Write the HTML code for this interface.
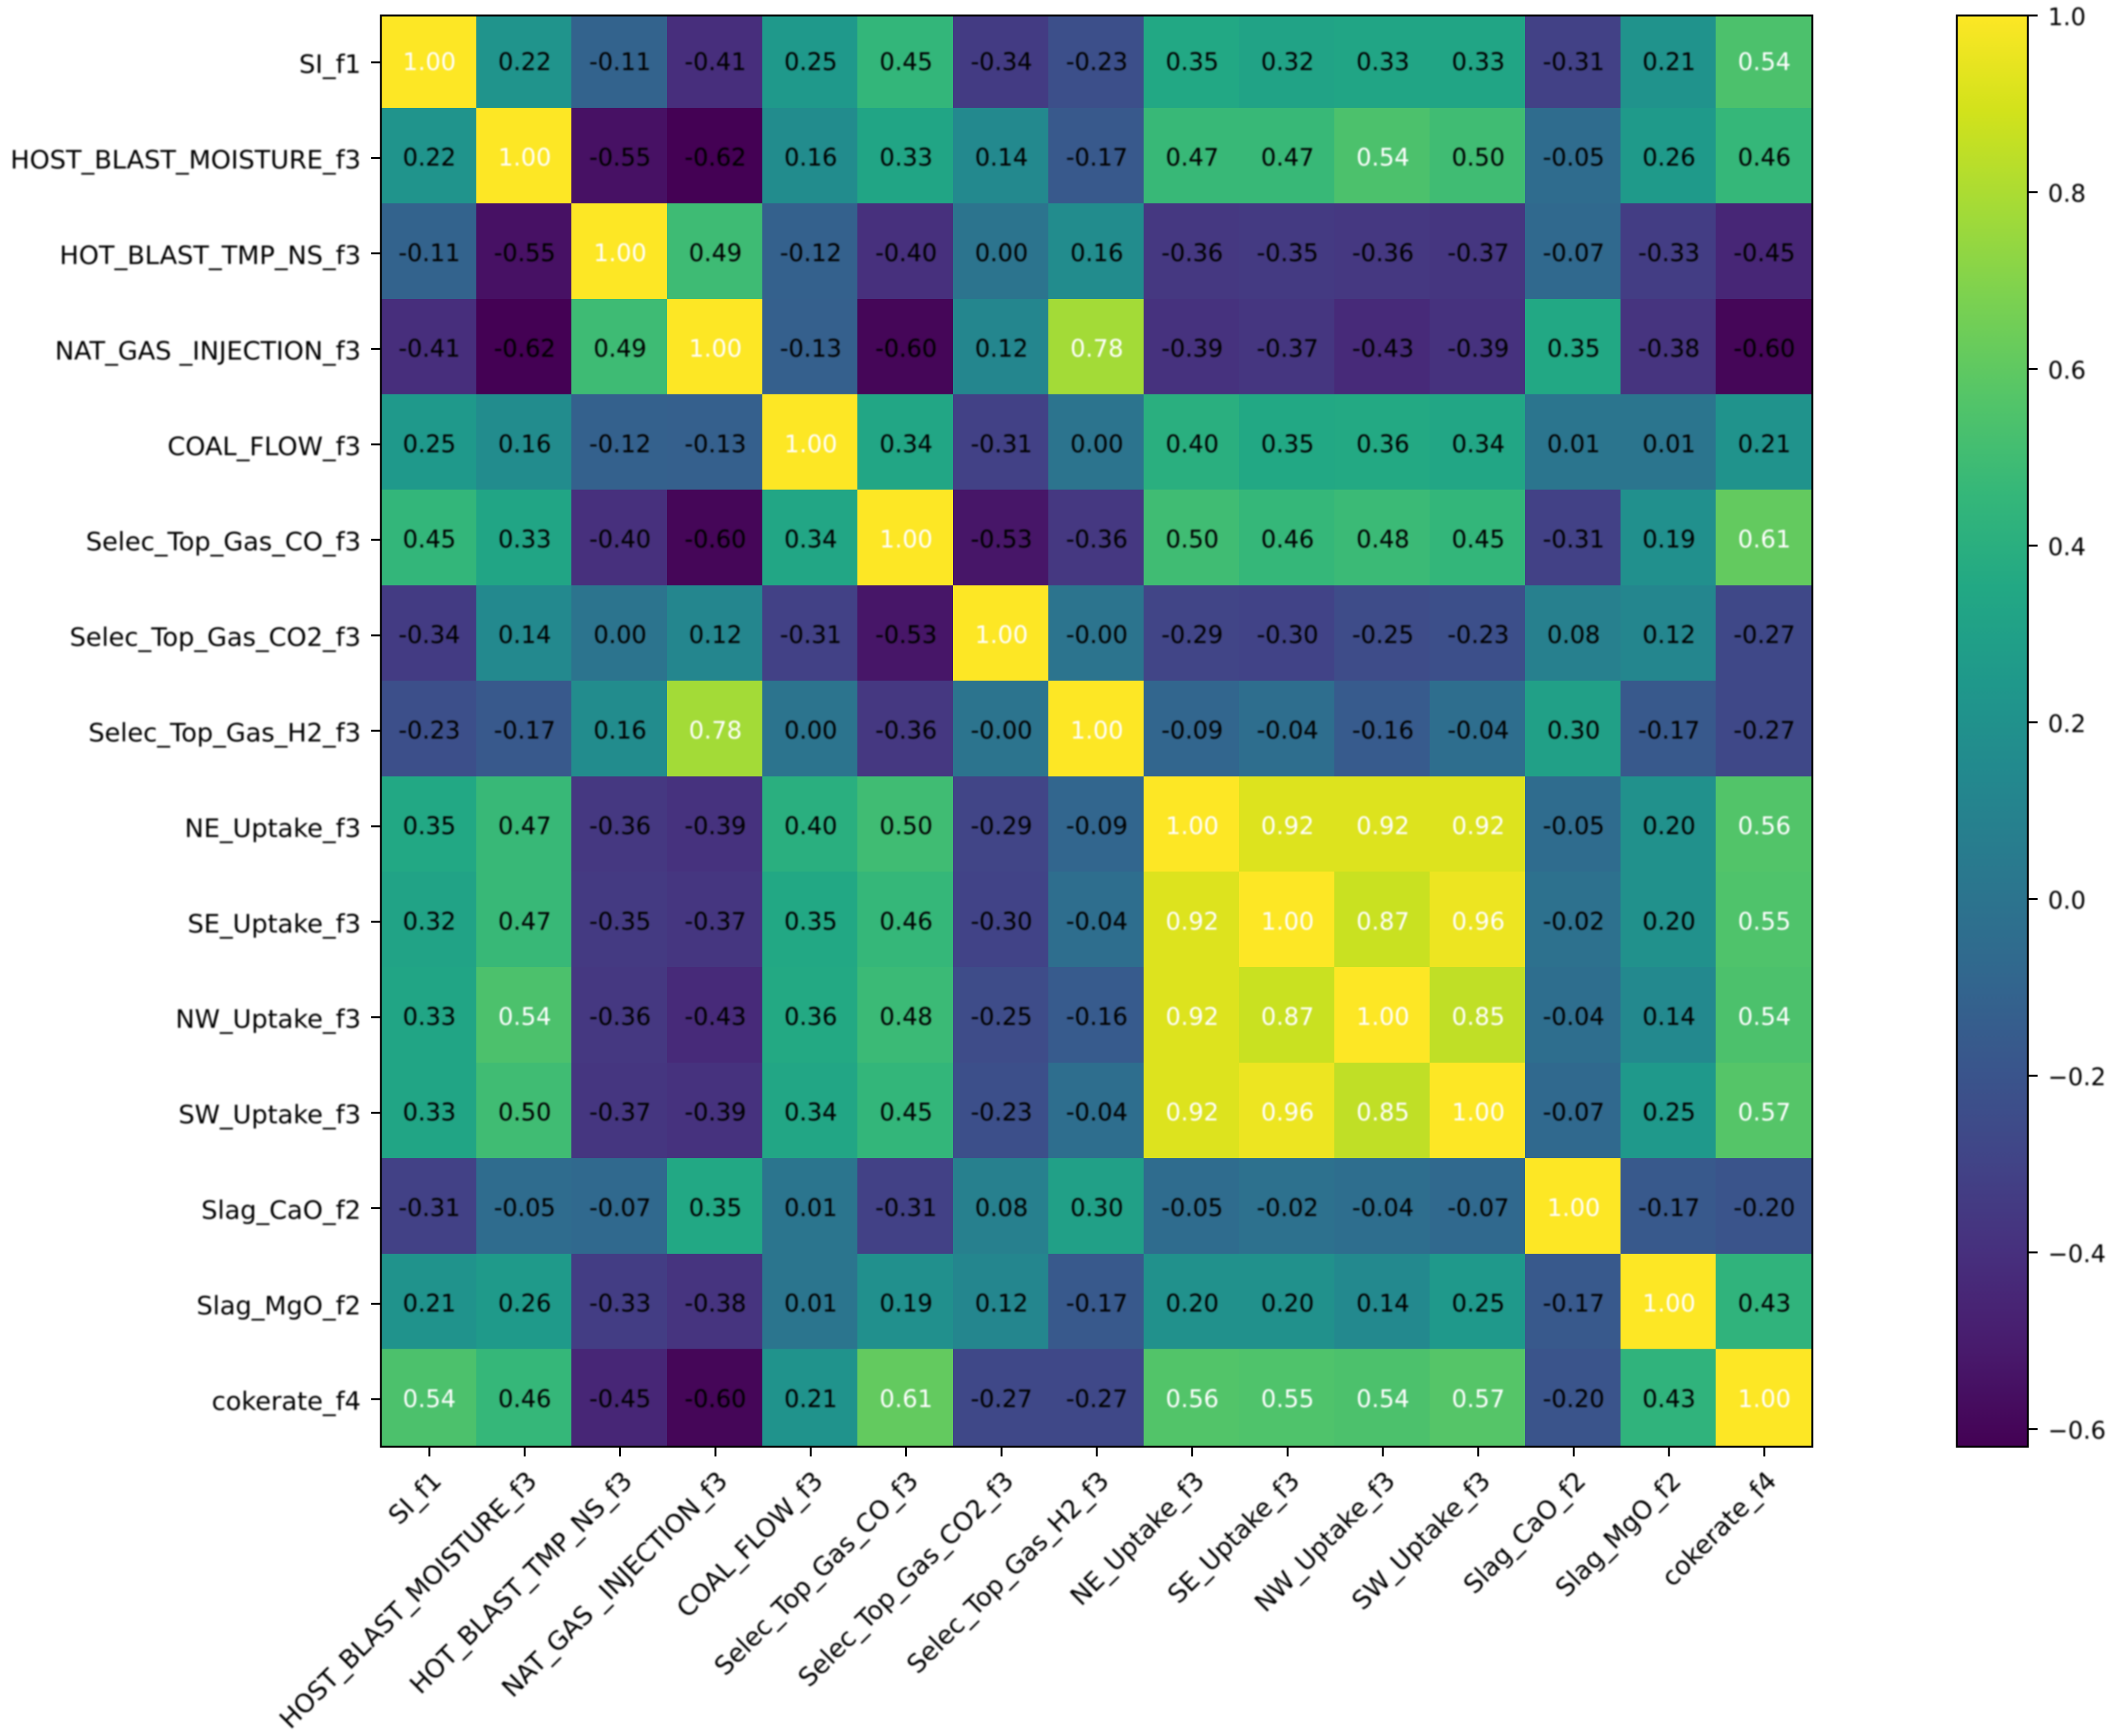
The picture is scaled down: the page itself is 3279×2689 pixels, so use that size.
<!DOCTYPE html>
<html lang="en">
<head>
<meta charset="utf-8">
<title>Feature correlation heatmap</title>
<style>
html,body{margin:0;padding:0;background:#fff;width:3279px;height:2689px;overflow:hidden}
svg{display:block}
text{font-family:"DejaVu Sans","Liberation Sans",sans-serif;font-size:37px}
text.axis-label{font-size:39.6px}
</style>
</head>
<body>
<svg id="chart" xmlns="http://www.w3.org/2000/svg" width="3279" height="2689" viewBox="0 0 3279 2689">
<defs>
<filter id="soft" x="-5%" y="-5%" width="110%" height="110%"><feGaussianBlur stdDeviation="1.2"/></filter>
<linearGradient id="viridis-gradient" x1="0" y1="1" x2="0" y2="0"></linearGradient>
<clipPath id="plot-clip"><rect x="590" y="24" width="2217" height="2217"/></clipPath>
</defs>
</svg>
<script>
const categories = ["SI_f1","HOST_BLAST_MOISTURE_f3","HOT_BLAST_TMP_NS_f3","NAT_GAS _INJECTION_f3","COAL_FLOW_f3","Selec_Top_Gas_CO_f3","Selec_Top_Gas_CO2_f3","Selec_Top_Gas_H2_f3","NE_Uptake_f3","SE_Uptake_f3","NW_Uptake_f3","SW_Uptake_f3","Slag_CaO_f2","Slag_MgO_f2","cokerate_f4"];
const row0 = [1.00,0.22,-0.11,-0.41,0.25,0.45,-0.34,-0.23,0.35,0.32,0.33,0.33,-0.31,0.21,0.54];
const row1 = [0.22,1.00,-0.55,-0.62,0.16,0.33,0.14,-0.17,0.47,0.47,0.54,0.50,-0.05,0.26,0.46];
const row2 = [-0.11,-0.55,1.00,0.49,-0.12,-0.40,0.00,0.16,-0.36,-0.35,-0.36,-0.37,-0.07,-0.33,-0.45];
const row3 = [-0.41,-0.62,0.49,1.00,-0.13,-0.60,0.12,0.78,-0.39,-0.37,-0.43,-0.39,0.35,-0.38,-0.60];
const row4 = [0.25,0.16,-0.12,-0.13,1.00,0.34,-0.31,0.00,0.40,0.35,0.36,0.34,0.01,0.01,0.21];
const row5 = [0.45,0.33,-0.40,-0.60,0.34,1.00,-0.53,-0.36,0.50,0.46,0.48,0.45,-0.31,0.19,0.61];
const row6 = [-0.34,0.14,0.00,0.12,-0.31,-0.53,1.00,-0.001,-0.29,-0.30,-0.25,-0.23,0.08,0.12,-0.27];
const row7 = [-0.23,-0.17,0.16,0.78,0.00,-0.36,-0.001,1.00,-0.09,-0.04,-0.16,-0.04,0.30,-0.17,-0.27];
const row8 = [0.35,0.47,-0.36,-0.39,0.40,0.50,-0.29,-0.09,1.00,0.92,0.92,0.92,-0.05,0.20,0.56];
const row9 = [0.32,0.47,-0.35,-0.37,0.35,0.46,-0.30,-0.04,0.92,1.00,0.87,0.96,-0.02,0.20,0.55];
const row10 = [0.33,0.54,-0.36,-0.43,0.36,0.48,-0.25,-0.16,0.92,0.87,1.00,0.85,-0.04,0.14,0.54];
const row11 = [0.33,0.50,-0.37,-0.39,0.34,0.45,-0.23,-0.04,0.92,0.96,0.85,1.00,-0.07,0.25,0.57];
const row12 = [-0.31,-0.05,-0.07,0.35,0.01,-0.31,0.08,0.30,-0.05,-0.02,-0.04,-0.07,1.00,-0.17,-0.20];
const row13 = [0.21,0.26,-0.33,-0.38,0.01,0.19,0.12,-0.17,0.20,0.20,0.14,0.25,-0.17,1.00,0.43];
const row14 = [0.54,0.46,-0.45,-0.60,0.21,0.61,-0.27,-0.27,0.56,0.55,0.54,0.57,-0.20,0.43,1.00];
const matrix = [row0,row1,row2,row3,row4,row5,row6,row7,row8,row9,row10,row11,row12,row13,row14];
const colorbarTicks = [1.0,0.8,0.6,0.4,0.2,0.0,-0.2,-0.4,-0.6];
const colorDomain = [-0.62,1.0];
const viridisStops = ["#440154","#481a6c","#472f7d","#414487","#39568c","#31688e","#2a788e","#23888e","#1f988b","#22a884","#35b779","#54c568","#7ad151","#a5db36","#d2e21b","#fde725"];

const NS = "http://www.w3.org/2000/svg";
const svg = document.getElementById("chart");
const plot = {left:590, right:2807, top:24, bottom:2241};
const bar = {left:3031, right:3141, top:24, bottom:2241};

function hexToRgb(h){return [1,3,5].map(function(i){return parseInt(h.substr(i,2),16);});}
function viridis(t){
  t = Math.max(0,Math.min(1,t));
  const p = t*(viridisStops.length-1);
  const i = Math.min(Math.floor(p),viridisStops.length-2);
  const f = p-i;
  const a = hexToRgb(viridisStops[i]);
  const b = hexToRgb(viridisStops[i+1]);
  return "rgb("+a.map(function(v,k){return Math.round(v+(b[k]-v)*f);}).join(",")+")";
}
function colorOf(v){return viridis((v-colorDomain[0])/(colorDomain[1]-colorDomain[0]));}
const n = categories.length;
const xBand = 147.7;
const yBand = 147.9;
function xCenter(i){return plot.left+75+i*xBand;}
function yCenter(i){return plot.top+72.7+i*yBand;}
function xLeft(i){return xCenter(i)-xBand/2-1.5;}
function yTop(i){return yCenter(i)-yBand/2-3.7;}
function barY(v){return bar.bottom-(v-colorDomain[0])/(colorDomain[1]-colorDomain[0])*(bar.bottom-bar.top);}
function fmt(v){return v.toFixed(2);}
function make(tag,attrs,parent){
  const el = document.createElementNS(NS,tag);
  Object.keys(attrs).forEach(function(k){el.setAttribute(k,attrs[k]);});
  parent.appendChild(el);
  return el;
}

const cellsGroup = make("g",{"shape-rendering":"crispEdges","clip-path":"url(#plot-clip)"},svg);


const textGroup = make("g",{filter:"url(#soft)"},svg);



matrix.forEach(function(row,r){
  row.forEach(function(v,c){
    const cell = make("rect",{x:xLeft(c),y:yTop(r),width:xBand+(c===n-1?10:0.5),height:yBand+(r===n-1?10:0.5),fill:colorOf(v)},cellsGroup);
    
    
    const label = make("text",{x:xCenter(c),y:yCenter(r)+12,"text-anchor":"middle",fill:v>0.5?"#ffffff":"#000000"},textGroup);
    
    
    label.textContent = fmt(v);
  });
});

const axesGroup = make("g",{fill:"none",stroke:"#000","stroke-width":3},svg);


const frame = make("rect",{x:plot.left,y:plot.top,width:plot.right-plot.left,height:plot.bottom-plot.top},axesGroup);



categories.forEach(function(name,i){
  const yTick = make("line",{x1:plot.left-15,x2:plot.left,y1:yCenter(i),y2:yCenter(i)},axesGroup);
  
  
  const xTick = make("line",{x1:xCenter(i),x2:xCenter(i),y1:plot.bottom,y2:plot.bottom+15},axesGroup);
  
  
  const yLabel = make("text",{x:plot.left-31,y:yCenter(i)+16.5,"text-anchor":"end",fill:"#000","class":"axis-label"},textGroup);
  
  
  yLabel.textContent = name;
  const tx = xCenter(i)+21;
  const ty = plot.bottom+55;
  const xLabel = make("text",{x:tx,y:ty,"text-anchor":"end",fill:"#000","class":"axis-label",transform:"rotate(-45 "+tx+" "+ty+")"},textGroup);
  
  
  xLabel.textContent = name;
});

const grad = document.getElementById("viridis-gradient");
viridisStops.forEach(function(col,i){
  make("stop",{offset:i/(viridisStops.length-1),"stop-color":col},grad);
});
const colorbar = make("rect",{x:bar.left,y:bar.top,width:bar.right-bar.left,height:bar.bottom-bar.top,fill:"url(#viridis-gradient)",stroke:"#000","stroke-width":3},svg);


colorbarTicks.forEach(function(v){
  const y = barY(v);
  const tick = make("line",{x1:bar.right,x2:bar.right+15,y1:y,y2:y,stroke:"#000","stroke-width":3},svg);
  
  
  const lab = make("text",{x:bar.right+31,y:y+15,fill:"#000"},textGroup);
  
  
  lab.textContent = (v<0?"\u2212":"")+Math.abs(v).toFixed(1);
});
</script>
</body>
</html>
